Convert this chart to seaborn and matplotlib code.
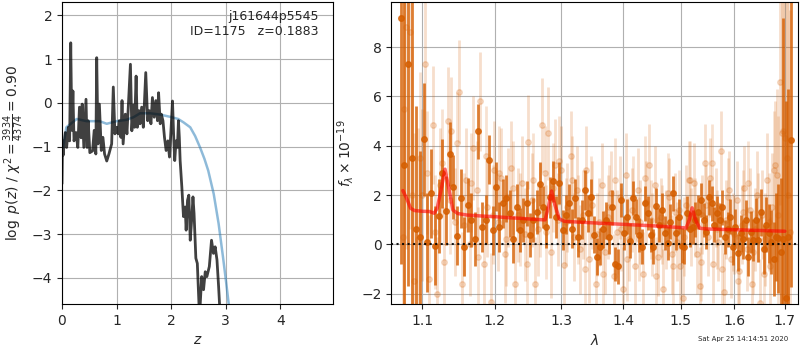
import numpy as np
import seaborn as sns
import matplotlib.pyplot as plt
from matplotlib.ticker import FormatStrFormatter, NullLocator

# ---- p(z) panel data ----
pz_z = [0.00, 0.01, 0.02, 0.06, 0.085, 0.116, 0.14, 0.16, 0.18, 0.20, 0.22, 0.257, 0.29, 0.32, 0.35,
        0.37, 0.40, 0.44, 0.46, 0.48, 0.51, 0.56, 0.59, 0.62, 0.636, 0.66, 0.685, 0.72, 0.75, 0.78,
        0.82, 0.86, 0.91, 0.94, 0.97, 1.00, 1.03, 1.05, 1.08, 1.10, 1.12, 1.16, 1.19, 1.254, 1.28,
        1.31, 1.33, 1.358, 1.38, 1.41, 1.43, 1.46, 1.49, 1.535, 1.57, 1.60, 1.63, 1.657, 1.69, 1.72,
        1.75, 1.77, 1.80, 1.82, 1.85, 1.878, 1.908, 1.94, 1.97, 2.00, 2.025, 2.045, 2.066, 2.09, 2.115,
        2.134, 2.15, 2.165, 2.196, 2.226, 2.257, 2.275, 2.30, 2.324, 2.35, 2.38, 2.40, 2.42, 2.453,
        2.48, 2.52, 2.56, 2.594, 2.625, 2.655, 2.70, 2.74, 2.776, 2.807, 2.84, 2.87, 2.90]
pz_logp = [-1.85, -0.87, -1.20, -0.68, -1.02, -0.56, -0.87, 1.37, -0.63, 0.27, -0.87, -0.68, -1.02, -0.10, -0.80,
           -0.03, -1.02, 0.08, -1.02, -0.41, -1.14, -1.10, -0.63, -1.17, 1.03, -0.94, -0.03, -1.09, -0.79, -1.17,
           -1.33, -1.17, -0.94, 0.36, -0.71, -0.56, -0.71, -0.41, -0.79, 0.05, -0.94, -0.26, -0.71, 0.88, -0.64,
           -0.05, -0.56, 0.61, -0.56, -0.18, -0.48, -0.10, -0.56, 0.69, -0.41, -0.18, -0.48, 0.12, -0.33, 0.05,
           -0.41, 0.23, -0.48, -0.26, -0.41, -0.79, -1.09, -0.87, -1.24, -0.56, 0.04, -0.71, -1.32, -0.87, -1.02,
           -0.41, -0.79, -1.32, -1.92, -2.60, -2.38, -2.91, -2.23, -2.11, -3.14, -2.60, -2.15, -2.53, -3.55,
           -3.67, -4.90, -3.97, -4.27, -3.86, -3.97, -3.74, -3.14, -3.44, -3.29, -3.59, -4.20, -4.90]

prior_z = [0.02, 0.08, 0.27, 0.45, 0.69, 0.82, 1.00, 1.18, 1.31, 1.43, 1.62, 1.80, 1.98, 2.13,
           2.23, 2.35, 2.44, 2.53, 2.61, 2.68, 2.78, 2.87, 2.95, 3.01, 3.07]
prior_logp = [-1.02, -0.56, -0.37, -0.42, -0.42, -0.48, -0.42, -0.39, -0.33, -0.24, -0.24, -0.27, -0.32, -0.37,
              -0.45, -0.56, -0.76, -1.02, -1.28, -1.55, -2.08, -2.76, -3.52, -4.12, -4.75]

# ---- spectrum panel data (microns, flux x 1e-19) ----
bin_wave = [1.072, 1.077, 1.082, 1.087, 1.092, 1.097, 1.102, 1.107, 1.112, 1.117,
            1.122, 1.127, 1.132, 1.137, 1.142, 1.147, 1.152, 1.157, 1.162, 1.167,
            1.172, 1.177, 1.182, 1.187, 1.192, 1.197, 1.202, 1.207, 1.212, 1.217,
            1.222, 1.227, 1.232, 1.237, 1.242, 1.247, 1.252, 1.257, 1.262, 1.267,
            1.272, 1.277, 1.282, 1.287, 1.292, 1.297, 1.302, 1.307, 1.312, 1.317,
            1.322, 1.327, 1.332, 1.337, 1.342, 1.347, 1.352, 1.357, 1.362, 1.367,
            1.372, 1.377, 1.382, 1.387, 1.392, 1.397, 1.402, 1.407, 1.412, 1.417,
            1.422, 1.427, 1.432, 1.437, 1.442, 1.447, 1.452, 1.457, 1.462, 1.467,
            1.472, 1.477, 1.482, 1.487, 1.492, 1.497, 1.502, 1.507, 1.512, 1.517,
            1.522, 1.527, 1.532, 1.537, 1.542, 1.547, 1.552, 1.557, 1.562, 1.567,
            1.572, 1.577, 1.582, 1.587, 1.592, 1.597, 1.602, 1.607, 1.612, 1.617,
            1.622, 1.627, 1.632, 1.637, 1.642, 1.647, 1.652, 1.657, 1.662, 1.667,
            1.672, 1.677, 1.682, 1.687, 1.692, 1.697, 1.702, 1.707, 1.712]
bin_flux = [9.2, 3.2, 7.3, 3.5, 0.6, 0.3, 4.26, 0.08, 2.07, -0.05,
            1.15, 2.88, 1.37, 3.67, 2.34, 0.34, 1.87, -0.1, 1.6, 1.0,
            0.21, 4.58, 0.7, 1.0, 3.43, 0.57, 2.34, 0.7, 1.66, 1.87,
            1.26, 0.2, 1.5, 0.57, 0.98, 1.66, 0.38, 0.98, 1.3, 2.44,
            1.52, 0.7, 1.9, 2.55, 1.1, 2.5, 0.58, 1.2, 1.66, 0.64,
            1.87, 0.3, 1.0, 2.21, 1.26, 1.9, 0.38, -0.5, -0.1, 0.6,
            0.98, 0.3, 1.5, -0.8, -0.9, 1.8, 0.45, 1.12, 0.15, 1.87,
            1.12, 0.38, -0.1, 1.66, 1.26, 0.38, -0.1, 1.57, 0.78, 1.4,
            0.45, 0.05, 0.92, 2.07, 0.45, 1.12, -0.05, -0.1, 1.26, 0.6,
            0.7, 1.0, 1.3, 1.8, 0.98, 0.5, 1.9, 1.66, 0.8, 1.26,
            0.98, 1.5, 0.3, 0.6, 1.12, -0.1, 0.7, -0.35, 0.45, 0.2,
            0.98, -0.5, 0.5, 0.17, 0.98, 0.17, 1.3, -0.2, 0.8, 0.45,
            0.1, -0.6, 0.3, 0.24, -0.3, 0.2, -2.2, 0.3, 4.25]
bin_err = [10.0, 9.0, 9.0, 7.0, 5.0, 3.5, 2.3, 2.0, 1.8, 1.6,
           1.5, 1.4, 1.4, 1.3, 1.3, 1.2, 1.2, 1.2, 1.1, 1.1,
           1.1, 1.1, 1.0, 1.0, 1.0, 1.0, 1.0, 1.0, 1.0, 0.95,
           0.95, 0.95, 0.95, 0.9, 0.9, 0.9, 0.9, 0.9, 0.9, 0.9,
           0.85, 0.85, 0.85, 0.85, 0.85, 0.85, 0.8, 0.8, 0.8, 0.8,
           0.8, 0.8, 0.8, 0.8, 0.75, 0.75, 0.75, 0.75, 0.75, 0.75,
           0.75, 0.7, 0.7, 0.7, 0.7, 0.7, 0.7, 0.7, 0.7, 0.7,
           0.7, 0.7, 0.7, 0.7, 0.7, 0.7, 0.7, 0.7, 0.7, 0.7,
           0.7, 0.7, 0.7, 0.7, 0.7, 0.7, 0.7, 0.7, 0.7, 0.7,
           0.7, 0.7, 0.7, 0.7, 0.7, 0.7, 0.7, 0.7, 0.7, 0.7,
           0.7, 0.7, 0.7, 0.7, 0.7, 0.75, 0.75, 0.75, 0.75, 0.8,
           0.8, 0.8, 0.85, 0.85, 0.9, 0.9, 0.95, 1.0, 1.1, 1.2,
           1.3, 1.5, 1.8, 2.2, 3.0, 9.0, 8.0, 6.0, 6.0]

raw_wave = [1.0745, 1.0795, 1.0845, 1.0895, 1.0945, 1.0995, 1.1045, 1.1095, 1.1145, 1.1195,
            1.1245, 1.1295, 1.1345, 1.1395, 1.1445, 1.1495, 1.1545, 1.1595, 1.1645, 1.1695,
            1.1745, 1.1795, 1.1845, 1.1895, 1.1945, 1.1995, 1.2045, 1.2095, 1.2145, 1.2195,
            1.2245, 1.2295, 1.2345, 1.2395, 1.2445, 1.2495, 1.2545, 1.2595, 1.2645, 1.2695,
            1.2745, 1.2795, 1.2845, 1.2895, 1.2945, 1.2995, 1.3045, 1.3095, 1.3145, 1.3195,
            1.3245, 1.3295, 1.3345, 1.3395, 1.3445, 1.3495, 1.3545, 1.3595, 1.3645, 1.3695,
            1.3745, 1.3795, 1.3845, 1.3895, 1.3945, 1.3995, 1.4045, 1.4095, 1.4145, 1.4195,
            1.4245, 1.4295, 1.4345, 1.4395, 1.4445, 1.4495, 1.4545, 1.4595, 1.4645, 1.4695,
            1.4745, 1.4795, 1.4845, 1.4895, 1.4945, 1.4995, 1.5045, 1.5095, 1.5145, 1.5195,
            1.5245, 1.5295, 1.5345, 1.5395, 1.5445, 1.5495, 1.5545, 1.5595, 1.5645, 1.5695,
            1.5745, 1.5795, 1.5845, 1.5895, 1.5945, 1.5995, 1.6045, 1.6095, 1.6145, 1.6195,
            1.6245, 1.6295, 1.6345, 1.6395, 1.6445, 1.6495, 1.6545, 1.6595, 1.6645, 1.6695,
            1.6745, 1.6795, 1.6845, 1.6895, 1.6945, 1.6995, 1.7045, 1.7095]
raw_flux = [0.3, 8.8, 8.6, -1.5, 0.2, 2.0, 7.3, -1.4, 4.85, -2.0,
            2.4, -0.7, 5.0, 4.6, 0.9, 6.2, -1.6, 2.6, 0.0, 3.9,
            2.2, 5.8, -0.8, 1.5, -2.35, 3.0, 0.9, 2.7, -0.4, 1.9,
            3.1, -1.6, 1.2, 2.5, 0.4, 4.15, 1.8, -1.6, 0.6, 4.85,
            2.9, 4.5, -0.3, 3.2, 1.0, 3.0, -0.85, 1.5, 3.6, 0.3,
            2.2, -0.2, 1.2, 3.0, -0.6, 1.6, -1.6, 0.9, 2.4, -0.3,
            1.1, 2.1, -1.3, 0.5, 1.9, -1.8, 2.8, 0.2, 1.4, -0.9,
            2.2, 0.9, -1.2, 1.7, 3.2, 0.4, 2.4, -0.5, 1.1, -1.8,
            0.6, 1.9, -0.4, 1.3, 0.1, -0.9, -2.2, 1.6, 2.6, 0.7,
            2.5, -0.4, -1.7, 1.2, 3.3, 0.3, 2.7, -0.8, 1.5, 0.1,
            3.8, -1.95, 1.0, 2.2, -0.6, 0.4, 1.8, -1.1, 0.8, 2.3,
            -0.2, 1.4, -1.6, 0.6, 2.0, -2.4, 1.2, 0.2, 2.6, -0.9,
            1.5, 3.2, 2.8, 6.6, 4.5, 4.3, 3.5, 0.5]
raw_err = [9.0, 9.0, 8.0, 6.0, 4.5, 3.5, 3.0, 2.6, 2.4, 2.3,
           2.3, 2.2, 2.2, 2.2, 2.2, 2.1, 2.1, 2.1, 2.1, 2.1,
           2.0, 2.0, 2.0, 2.0, 2.0, 2.0, 2.0, 2.0, 2.0, 2.0,
           1.9, 1.9, 1.9, 1.9, 1.9, 1.9, 1.9, 1.9, 1.9, 1.9,
           1.9, 1.9, 1.9, 1.9, 1.9, 1.8, 1.8, 1.8, 1.8, 1.8,
           1.8, 1.8, 1.8, 1.8, 1.8, 1.8, 1.8, 1.8, 1.7, 1.7,
           1.7, 1.7, 1.7, 1.7, 1.7, 1.7, 1.7, 1.7, 1.7, 1.7,
           1.7, 1.7, 1.7, 1.7, 1.7, 1.7, 1.6, 1.6, 1.6, 1.6,
           1.6, 1.6, 1.6, 1.6, 1.6, 1.6, 1.6, 1.6, 1.6, 1.6,
           1.6, 1.6, 1.6, 1.6, 1.6, 1.6, 1.6, 1.6, 1.6, 1.6,
           1.6, 1.6, 1.6, 1.6, 1.6, 1.6, 1.6, 1.6, 1.6, 1.7,
           1.7, 1.7, 1.7, 1.7, 1.8, 1.8, 1.8, 1.9, 1.9, 2.0,
           2.2, 2.6, 3.5, 5.0, 7.0, 8.0, 9.0, 9.0]

# second exposure, unbinned
raw2_wave = [1.077, 1.087, 1.097, 1.107, 1.117, 1.127, 1.137, 1.147, 1.157, 1.167,
             1.177, 1.187, 1.197, 1.207, 1.217, 1.227, 1.237, 1.247, 1.257, 1.267,
             1.277, 1.287, 1.297, 1.307, 1.317, 1.327, 1.337, 1.347, 1.357, 1.367,
             1.377, 1.387, 1.397, 1.407, 1.417, 1.427, 1.437, 1.447, 1.457, 1.467,
             1.477, 1.487, 1.497, 1.507, 1.517, 1.527, 1.537, 1.547, 1.557, 1.567,
             1.577, 1.587, 1.597, 1.607, 1.617, 1.627, 1.637, 1.647, 1.657, 1.667,
             1.677, 1.687, 1.697, 1.707]
raw2_flux = [5.5, 2.0, 3.5, 2.9, 0.5, 3.3, 1.8, 4.1, 0.8, 2.5,
             -0.5, 3.6, 1.2, 2.9, 0.2, 2.3, 1.0, -0.8, 2.6, 1.4,
             0.5, 2.3, 3.4, 0.9, 2.6, 1.0, -1.0, 1.9, 0.4, -1.2,
             1.5, 2.6, 0.6, -0.6, 1.9, 0.2, 2.7, 1.0, -1.3, 0.8,
             2.1, -0.9, 1.4, 0.3, 2.6, 1.1, -0.7, 1.6, 3.3, 0.6,
             -1.0, 1.9, 0.5, -1.5, 1.3, 2.5, -0.3, 1.1, -1.2, 0.9,
             3.0, 1.2, 4.6, 2.0]
raw2_err = [9.0, 6.0, 3.5, 2.5, 2.3, 2.2, 2.2, 2.1, 2.1, 2.0,
            2.0, 2.0, 2.0, 1.9, 1.9, 1.9, 1.9, 1.9, 1.9, 1.9,
            1.9, 1.8, 1.8, 1.8, 1.8, 1.8, 1.8, 1.7, 1.7, 1.7,
            1.7, 1.7, 1.7, 1.7, 1.7, 1.7, 1.7, 1.6, 1.6, 1.6,
            1.6, 1.6, 1.6, 1.6, 1.6, 1.6, 1.6, 1.6, 1.6, 1.6,
            1.6, 1.6, 1.6, 1.6, 1.7, 1.7, 1.7, 1.8, 1.8, 2.0,
            2.4, 4.0, 7.0, 9.0]

model_wave = [1.075, 1.080, 1.085, 1.090, 1.100, 1.110, 1.116, 1.120, 1.125, 1.1307, 1.136, 1.1415,
              1.148, 1.160, 1.180, 1.200, 1.220, 1.240, 1.260, 1.275, 1.280, 1.285, 1.290, 1.297,
              1.305, 1.350, 1.400, 1.450, 1.500, 1.510, 1.516, 1.521, 1.527, 1.535, 1.550, 1.600,
              1.650, 1.700]
model_flux = [2.18, 1.85, 1.46, 1.37, 1.34, 1.33, 1.26, 1.45, 2.15, 3.05, 2.25, 1.39,
              1.25, 1.19, 1.15, 1.12, 1.08, 1.05, 1.01, 0.99, 1.50, 2.16, 1.60, 1.03,
              0.93, 0.87, 0.81, 0.75, 0.68, 0.66, 1.00, 1.48, 1.00, 0.65, 0.62, 0.59,
              0.56, 0.53]

z_ticks = [0, 1, 2, 3, 4]
logp_ticks = [-4, -3, -2, -1, 0, 1, 2]
wave_ticks = [1.1, 1.2, 1.3, 1.4, 1.5, 1.6, 1.7]
flux_ticks = [-2, 0, 2, 4, 6, 8]

sns.set_style("ticks", {"axes.grid": True, "grid.color": "#b0b0b0", "axes.edgecolor": "black"})
plt.rcParams['font.family'] = ['DejaVu Sans']
plt.rcParams['font.size'] = 10
plt.rcParams['grid.linewidth'] = 0.8

fig = plt.figure(figsize=(8, 3.5), dpi=100)

#left panel: redshift probability
ax1 = fig.add_axes([0.0775, 0.131, 0.339, 0.863])
sns.lineplot(x=prior_z, y=prior_logp, ax=ax1, color='#1f77b4', alpha=0.5, lw=1.8, estimator=None)
sns.lineplot(x=pz_z, y=pz_logp, ax=ax1, color='k', alpha=0.75, lw=2, estimator=None)
ax1.set_xlim(0, 4.97)
ax1.set_ylim(-4.6, 2.3)
ax1.set_xticks(z_ticks)
ax1.set_yticks(logp_ticks)
ax1.set_xlabel('$z$')
ax1.set_ylabel(r'$\log\ p(z)$ / $\chi^2=\frac{3934}{4374}=0.90$')
ax1.text(0.945, 0.975, 'j161644p5545\nID=1175   z=0.1883', ha='right', va='top',
         transform=ax1.transAxes, fontsize=9)
ax1.grid(True)

#right panel: spectrum
col = sns.color_palette('colorblind')[3]
ax2 = fig.add_axes([0.489, 0.131, 0.5085, 0.863])
ax2.set_xscale('log')
ax2.errorbar(raw2_wave, raw2_flux, yerr=raw2_err, fmt='o', color=col, alpha=0.18,
             ms=4, lw=2, zorder=1)
ax2.errorbar(raw_wave, raw_flux, yerr=raw_err, fmt='o', color=col, alpha=0.2,
             ms=4, lw=2, zorder=1)
ax2.errorbar(bin_wave, bin_flux, yerr=bin_err, fmt='o', color=col, alpha=0.8,
             ms=4, lw=2, zorder=2)
sns.lineplot(x=model_wave, y=model_flux, ax=ax2, color='r', alpha=0.6, lw=2.5,
             estimator=None, zorder=3)
ax2.axhline(0, color='k', ls=':', lw=1.5, alpha=0.9, zorder=4)
ax2.set_xlim(1.06, 1.727)
ax2.set_ylim(-2.43, 9.83)
ax2.set_xticks(wave_ticks)
ax2.xaxis.set_major_formatter(FormatStrFormatter('%.1f'))
ax2.xaxis.set_minor_locator(NullLocator())
ax2.set_yticks(flux_ticks)
ax2.set_xlabel(r'$\lambda$')
ax2.set_ylabel(r'$f_\lambda\times10^{-19}$')
ax2.grid(True)

fig.text(0.985, 0.031, 'Sat Apr 25 14:14:51 2020', ha='right', va='center', fontsize=5)

fig.savefig('out.png', dpi=100)
